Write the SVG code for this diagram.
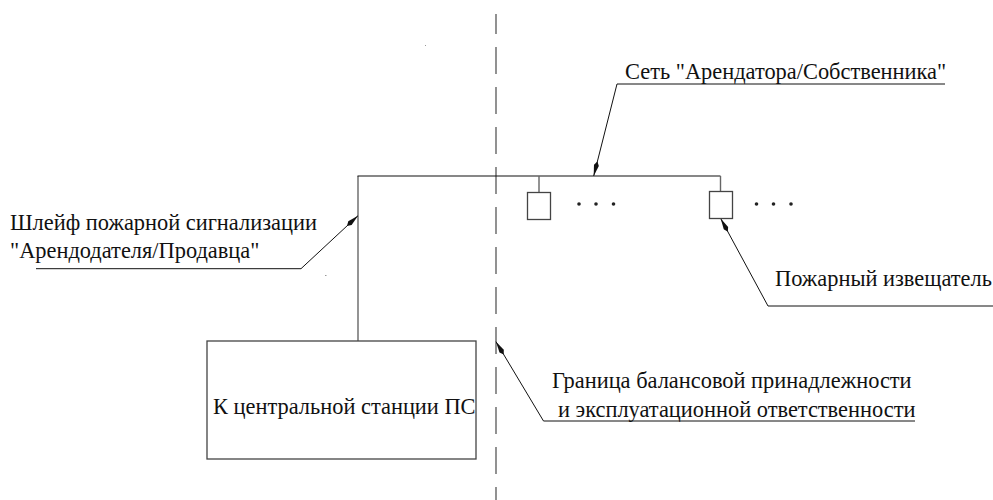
<svg xmlns="http://www.w3.org/2000/svg" width="993" height="500" viewBox="0 0 993 500">
<style>
text{font-family:"Liberation Serif","Times New Roman",serif;font-size:22.4px;fill:#111}
.l{fill:none;stroke:#111;stroke-width:1}
.h{fill:none;stroke:#111;stroke-width:1.2}
.w{fill:none;stroke:#666;stroke-width:1.4}
.b{fill:#fff;stroke:#444;stroke-width:1.3}
.d{fill:#222}
.g{fill:none;stroke:#777;stroke-width:1.6;stroke-dasharray:27 13}
</style>
<defs>
<marker id="a" markerWidth="16" markerHeight="8" refX="15" refY="4" orient="auto" markerUnits="userSpaceOnUse"><path d="M0 4 4 1.5 15 4 4 6.5Z" fill="#111"/></marker>
</defs>
<g id="connectors">
<path class="g" d="M496 14V34M496 47V500"/>
<path class="w" d="M358 341V176"/>
<path class="h" d="M357.5 176H720.5"/>
<path class="w" d="M720.5 176V191M539 176V192"/>
<path class="l" d="M945 84H617L593.7 176" marker-end="url(#a)"/>
<path class="l" d="M993 306H768L720.7 218.5" marker-end="url(#a)"/>
<path class="l" d="M36 268.7H301L358 215.7" marker-end="url(#a)"/>
<path class="l" d="M915 421H543.5L496 341.7" marker-end="url(#a)"/>
</g>
<g id="station"><rect class="b" x="207" y="341" width="269" height="118"/><text x="213" y="414">К центральной станции ПС</text></g>
<g id="detector1"><rect class="b" x="527.5" y="192.5" width="23" height="27"/></g>
<g id="detector2"><rect class="b" x="709.5" y="191.5" width="23" height="27"/></g>
<g id="dots1"><circle class="d" cx="579" cy="204" r="1.8"/><circle class="d" cx="596" cy="204" r="1.8"/><circle class="d" cx="613.5" cy="204" r="1.8"/></g>
<g id="dots2"><circle class="d" cx="756.5" cy="204" r="1.8"/><circle class="d" cx="773.5" cy="204" r="1.8"/><circle class="d" cx="791" cy="204" r="1.8"/></g>
<g id="label-network"><text x="625" y="79">Сеть "Арендатора/Собственника"</text></g>
<g id="label-loop"><text x="10" y="230">Шлейф пожарной сигнализации</text><text x="10" y="258">"Арендодателя/Продавца"</text></g>
<g id="label-detector"><text x="775" y="286">Пожарный извещатель</text></g>
<g id="label-boundary"><text x="552" y="388">Граница балансовой принадлежности</text><text x="558" y="417">и эксплуатационной ответственности</text></g>
<g id="specks"><rect x="425" y="45" width="1" height="1" fill="#999"/><rect x="325" y="275" width="1.5" height="1" fill="#999"/></g>
</svg>
